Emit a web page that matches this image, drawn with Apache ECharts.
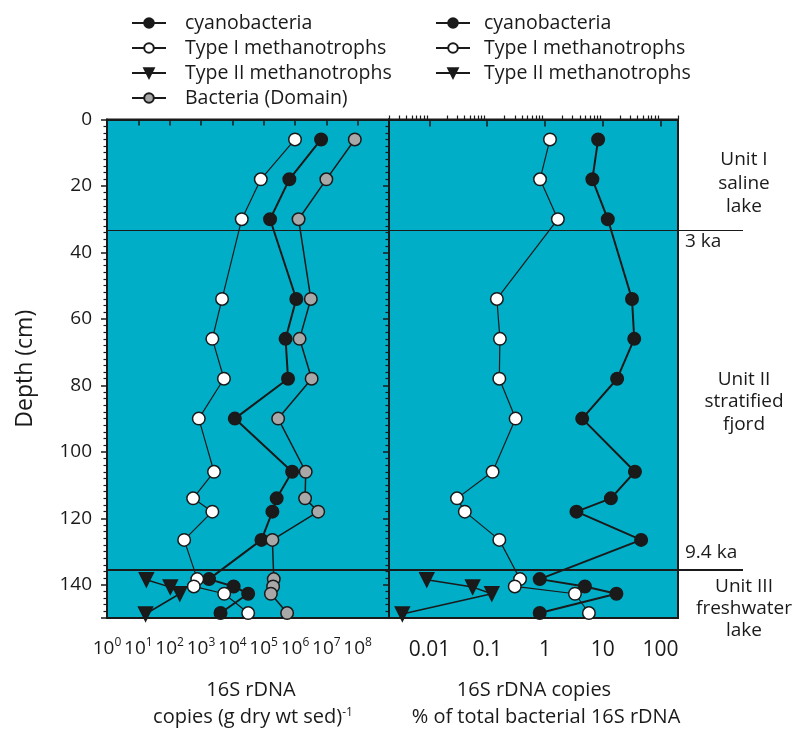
<!DOCTYPE html>
<html><head><meta charset="utf-8">
<script src="https://cdn.jsdelivr.net/npm/echarts@6/dist/echarts.min.js"></script>
<style>html,body{margin:0;padding:0;background:#fff}#c{width:798px;height:729px}</style>
</head><body><div id="c"></div>
<script>
// ---- data ----
const depths = [6, 18, 30, 54, 66, 78, 90, 106, 114, 118, 126.5, 138.3, 140.5, 142.7, 148.5];
const typeIIDepths = [138.5, 140.7, 142.7, 148.8];
// left panel: copies (g dry wt sed)^-1
const cyanoCopies = [6.8e6, 6.6e5, 1.6e5, 1.1e6, 5.0e5, 6.0e5, 1.2e4, 8.1e5, 2.6e5, 1.9e5, 8.5e4, 1.8e3, 1.1e4, 3.2e4, 4.2e3];
const typeICopies = [1.0e6, 8.1e4, 2.0e4, 4.7e3, 2.3e3, 5.4e3, 850, 2.6e3, 560, 2.3e3, 290, 760, 590, 5.5e3, 3.2e4];
const bacteriaCopies = [8.1e7, 1.0e7, 1.3e6, 3.2e6, 1.4e6, 3.4e6, 2.9e5, 2.2e6, 2.1e6, 5.5e6, 1.9e5, 2.1e5, 2.0e5, 1.7e5, 5.6e5];
const typeIICopies = [18, 105, 210, 17];
// right panel: % of total bacterial 16S rDNA
const cyanoPct = [8.3, 6.6, 12.2, 32, 35, 17.7, 4.4, 36, 13.8, 3.5, 46, 0.81, 4.9, 17.2, 0.81];
const typeIPct = [1.22, 0.82, 1.67, 0.147, 0.166, 0.162, 0.31, 0.124, 0.030, 0.041, 0.162, 0.37, 0.30, 3.3, 5.75];
const typeIIPct = [0.009, 0.056, 0.12, 0.0034];
// boundaries (depth, cm)
const boundaryDepths = [33.2, 135.5];
const boundaryLabels = ['3 ka', '9.4 ka'];
const unitLabels = [['Unit I', 'saline', 'lake'], ['Unit II', 'stratified', 'fjord'], ['Unit III', 'freshwater', 'lake']];
const minorPctTicks = [0.002,0.003,0.004,0.005,0.006,0.007,0.008,0.009,0.02,0.03,0.04,0.05,0.06,0.07,0.08,0.09,0.2,0.3,0.4,0.5,0.6,0.7,0.8,0.9,2,3,4,5,6,7,8,9,20,30,40,50,60,70,80,90,200];

// ---- styles ----
const FF = '"Open Sans", "Noto Sans", sans-serif';
const INK = '#1a1a1a';
const TEAL = '#00aec7';
const pair = (xs, ys) => xs.map((v, i) => [v, ys[i]]);

const G = { top: 119.5, height: 498.5 };
const grids = [
  { left: 107, width: 282, top: G.top, height: G.height, show: true, backgroundColor: TEAL, borderColor: INK, borderWidth: 2 },
  { left: 389, width: 289, top: G.top, height: G.height, show: true, backgroundColor: TEAL, borderColor: INK, borderWidth: 2 },
  { left: 107, width: 636, top: G.top, height: G.height, show: false }
];

function yAx(gi, labels) {
  return {
    type: 'value', gridIndex: gi, inverse: true, min: 0, max: 150, interval: 20,
    axisLine: { show: true, lineStyle: { color: INK, width: 2 } },
    axisTick: { show: true, inside: false, length: 6, lineStyle: { color: INK, width: 1.5 } },
    minorTick: { show: true, splitNumber: 10, length: 3.5, lineStyle: { color: INK, width: 1.2 } },
    splitLine: { show: false },
    axisLabel: { show: labels, showMaxLabel: false, margin: 15, fontSize: 19, color: INK, fontFamily: FF },
    name: labels ? 'Depth (cm)' : '', nameLocation: 'middle', nameGap: 70, nameRotate: 90,
    nameTextStyle: { fontSize: 23, color: INK, fontFamily: FF }
  };
}

const xAxes = [
  {
    type: 'log', gridIndex: 0, min: 1, max: 1e9, logBase: 10,
    axisLine: { show: true, lineStyle: { color: INK, width: 2 } },
    axisTick: { show: true, length: 6, lineStyle: { color: INK, width: 1.5 } },
    splitLine: { show: false },
    axisLabel: {
      interval: 0, margin: 19, color: INK, fontFamily: FF,
      formatter: v => { const e = Math.round(Math.log10(v)); return e > 8 ? '' : '{b|10}{s|' + e + '}'; },
      rich: { b: { fontSize: 19, fontFamily: FF, color: INK, lineHeight: 23 }, s: { fontSize: 12, fontFamily: FF, color: INK, verticalAlign: 'top', lineHeight: 14 } }
    }
  },
  {
    type: 'log', gridIndex: 1, min: 0.002, max: 200, logBase: 10,
    axisLine: { show: true, lineStyle: { color: INK, width: 2 } },
    axisTick: { show: true, length: 7, lineStyle: { color: INK, width: 1.5 } },
    splitLine: { show: false },
    axisLabel: {
      interval: 0, margin: 22, fontSize: 21, color: INK, fontFamily: FF, showMinLabel: false, showMaxLabel: false,
      formatter: v => { const e = Math.round(Math.log10(v)); if (Math.abs(Math.log10(v) - e) > 1e-6) return ''; return e < 0 ? v.toFixed(-e) : String(Math.round(v)); }
    }
  },
  {
    type: 'log', gridIndex: 1, min: 0.002, max: 200, logBase: 10,
    axisLine: { show: false },
    axisTick: { show: true, length: 4, customValues: minorPctTicks, lineStyle: { color: INK, width: 1.2 } },
    axisLabel: { show: false }, splitLine: { show: false }
  },
  { type: 'value', gridIndex: 2, min: 0, max: 1, show: false }
];

const yAxes = [yAx(0, true), yAx(1, false), { type: 'value', gridIndex: 2, inverse: true, min: 0, max: 150, show: false }];

function lineSeries(name, xi, yi, data, sym, fill, lw, rot) {
  return {
    name, type: 'line', xAxisIndex: xi, yAxisIndex: yi, data,
    symbol: sym, symbolSize: sym === 'triangle' ? 14 : 12.5, symbolRotate: rot || 0,
    showSymbol: true, z: 5,
    lineStyle: { color: INK, width: lw },
    itemStyle: { color: fill, borderColor: INK, borderWidth: 1.5 },
    emphasis: { disabled: true }, animation: false
  };
}

const series = [
  lineSeries('cyanobacteria', 0, 0, pair(cyanoCopies, depths), 'circle', INK, 2),
  lineSeries('Type I methanotrophs', 0, 0, pair(typeICopies, depths), 'circle', '#ffffff', 1.2),
  lineSeries('Type II methanotrophs', 0, 0, pair(typeIICopies, typeIIDepths), 'triangle', INK, 1.5, 180),
  lineSeries('Bacteria (Domain)', 0, 0, pair(bacteriaCopies, depths), 'circle', '#a8a8a8', 1.5),
  lineSeries('cyanobacteria', 1, 1, pair(cyanoPct, depths), 'circle', INK, 2),
  lineSeries('Type I methanotrophs', 1, 1, pair(typeIPct, depths), 'circle', '#ffffff', 1.2),
  lineSeries('Type II methanotrophs', 1, 1, pair(typeIIPct, typeIIDepths), 'triangle', INK, 1.5, 180),
  {
    type: 'line', xAxisIndex: 3, yAxisIndex: 2, data: [], silent: true, z: 3,
    markLine: {
      symbol: 'none', silent: true, animation: false,
      label: { show: false },
      data: boundaryDepths.map((d, i) => ({ yAxis: d, lineStyle: { color: INK, width: i === 0 ? 1.2 : 2, type: 'solid' } }))
    }
  }
];

const legendCommon = {
  orient: 'vertical', top: 8, itemWidth: 34, itemHeight: 12, itemGap: 5, selectedMode: false,
  textStyle: { fontSize: 19.5, color: INK, fontFamily: FF }
};

const graphic = [];
const tstyle = (text, x, y, align, size) => ({ type: 'text', style: { text, x, y, textAlign: align || 'center', textVerticalAlign: 'middle', font: (size || 19) + 'px ' + FF, fill: INK } });
const unitY = [[160, 184, 207], [380, 402, 425], [587, 609, 631]];
unitLabels.forEach((lines, i) => lines.forEach((t, j) => graphic.push(tstyle(t, 744, unitY[i][j]))));
graphic.push(tstyle(boundaryLabels[0], 685, 242, 'left'));
graphic.push(tstyle(boundaryLabels[1], 685, 553, 'left'));
graphic.push(tstyle('16S rDNA', 251, 690, 'center', 20));
graphic.push({ type: 'text', style: { text: 'copies (g dry wt sed){s|-1}', x: 253, y: 717, textAlign: 'center', textVerticalAlign: 'middle', font: '20px ' + FF, fill: INK,
  rich: { s: { fontSize: 12, fontFamily: FF, fill: INK, verticalAlign: 'top', lineHeight: 12 } } } });
graphic.push(tstyle('16S rDNA copies', 534, 690, 'center', 20));
graphic.push(tstyle('% of total bacterial 16S rDNA', 546, 717, 'center', 20));

const chart = echarts.init(document.getElementById('c'), null, { renderer: 'canvas' });
chart.setOption({
  animation: false,
  backgroundColor: '#ffffff',
  grid: grids,
  xAxis: xAxes,
  yAxis: yAxes,
  legend: [
    Object.assign({}, legendCommon, { left: 126, textStyle: Object.assign({}, legendCommon.textStyle, { padding: [0, 0, 0, 14] }), data: ['cyanobacteria', 'Type I methanotrophs', 'Type II methanotrophs', 'Bacteria (Domain)'] }),
    Object.assign({}, legendCommon, { left: 430, textStyle: Object.assign({}, legendCommon.textStyle, { padding: [0, 0, 0, 9] }), data: ['cyanobacteria', 'Type I methanotrophs', 'Type II methanotrophs'] })
  ],
  series,
  graphic
});
</script></body></html>
